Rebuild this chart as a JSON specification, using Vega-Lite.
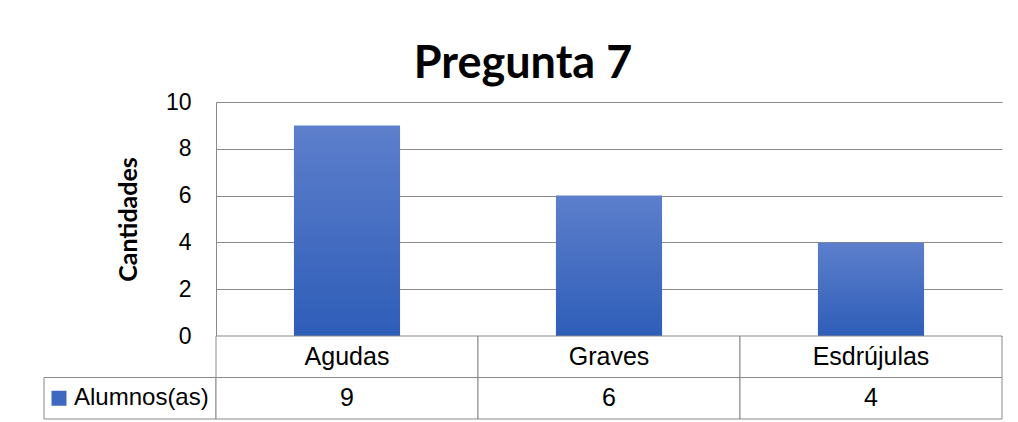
{
  "$schema": "https://vega.github.io/schema/vega-lite/v6.json",
  "background": "white",
  "padding": {"left": 43, "top": 42, "right": 10, "bottom": 2},
  "title": {"text": "Pregunta 7", "font": "Lato", "fontSize": 45, "fontWeight": "bold", "color": "black", "anchor": "middle", "frame": "bounds", "offset": 4},
  "datasets": {
    "respuestas": [
      {"categoria": "Agudas", "alumnos": 9},
      {"categoria": "Graves", "alumnos": 6},
      {"categoria": "Esdrújulas", "alumnos": 4}
    ]
  },
  "columns": 2,
  "spacing": 0,
  "bounds": "flush",
  "align": "each",
  "concat": [
    {
      "width": 172, "height": 234,
      "data": {"values": []},
      "mark": "text",
      "encoding": {}
    },
    {
      "width": 786, "height": 234,
      "data": {"name": "respuestas"},
      "mark": {"type": "bar", "color": {"gradient": "linear", "x1": 0, "y1": 0, "x2": 0, "y2": 1, "stops": [{"offset": 0, "color": "#5d7fcc"}, {"offset": 1, "color": "#2e5db8"}]}},
      "encoding": {
        "x": {"field": "categoria", "type": "nominal", "sort": null, "scale": {"paddingInner": 0.595, "paddingOuter": 0.2975}, "axis": null},
        "y": {"field": "alumnos", "type": "quantitative", "scale": {"domain": [0, 10]},
          "axis": {"values": [0, 2, 4, 6, 8, 10], "title": "Cantidades", "titleFont": "Lato", "titleFontSize": 25, "titleFontWeight": "bold", "titleColor": "black", "titlePadding": 24,
            "labelFont": "Liberation Sans", "labelFontSize": 23, "labelColor": "black", "labelPadding": 25, "ticks": false, "tickSize": 0,
            "domainColor": "#898989", "domainWidth": 1, "grid": true, "gridColor": "#898989", "gridOpacity": 1, "gridWidth": 1}}
      }
    },
    {
      "width": 172, "height": 83,
      "data": {"values": [{"fila": "valores", "serie": "Alumnos(as)"}]},
      "encoding": {
        "y": {"field": "fila", "type": "nominal", "scale": {"domain": ["categorias", "valores"], "paddingInner": 0, "paddingOuter": 0}, "axis": null}
      },
      "layer": [
        {"mark": {"type": "rect", "fill": "white", "stroke": "#898989", "strokeWidth": 1}},
        {"mark": {"type": "point", "shape": "square", "filled": true, "size": 225, "opacity": 1, "color": "#3f68c0", "xOffset": -71}},
        {"mark": {"type": "text", "font": "Liberation Sans", "fontSize": 24, "color": "black", "align": "left", "baseline": "middle", "dx": -56}, "encoding": {"text": {"field": "serie"}}}
      ]
    },
    {
      "width": 786, "height": 83,
      "data": {"name": "respuestas"},
      "encoding": {
        "x": {"field": "categoria", "type": "nominal", "sort": null, "scale": {"paddingInner": 0, "paddingOuter": 0}, "axis": null}
      },
      "layer": [
        {"mark": {"type": "rect", "fill": "white", "stroke": "#898989", "strokeWidth": 1},
         "encoding": {"y": {"datum": "categorias", "type": "nominal", "scale": {"domain": ["categorias", "valores"], "paddingInner": 0, "paddingOuter": 0}, "axis": null}}},
        {"mark": {"type": "rect", "fill": "white", "stroke": "#898989", "strokeWidth": 1},
         "encoding": {"y": {"datum": "valores", "type": "nominal"}}},
        {"mark": {"type": "text", "font": "Liberation Sans", "fontSize": 25, "color": "black", "baseline": "middle"},
         "encoding": {"y": {"datum": "categorias", "type": "nominal"}, "text": {"field": "categoria"}}},
        {"mark": {"type": "text", "font": "Liberation Sans", "fontSize": 25, "color": "black", "baseline": "middle"},
         "encoding": {"y": {"datum": "valores", "type": "nominal"}, "text": {"field": "alumnos"}}}
      ]
    }
  ],
  "config": {"view": {"stroke": null}}
}
